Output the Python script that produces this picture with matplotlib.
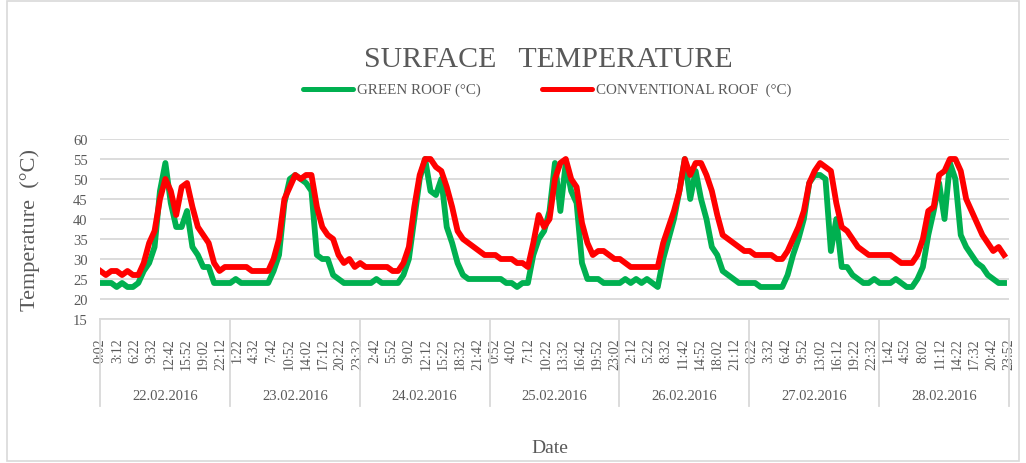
import matplotlib
matplotlib.use("Agg")
import matplotlib.pyplot as plt
from matplotlib.patches import Rectangle
from matplotlib.lines import Line2D
import numpy as np

# ---------------- data (hourly readings, °C) ----------------
dates = ["22.02.2016", "23.02.2016", "24.02.2016", "25.02.2016",
         "26.02.2016", "27.02.2016", "28.02.2016"]

green_d1 = [24, 24, 24, 23, 24, 23, 23, 24, 27, 29, 33, 47, 54, 44, 38, 38, 42, 33, 31, 28, 28, 24, 24, 24]
green_d2 = [24, 25, 24, 24, 24, 24, 24, 24, 27, 31, 44, 50, 51, 50, 49, 47, 31, 30, 30, 26, 25, 24, 24, 24]
green_d3 = [24, 24, 24, 25, 24, 24, 24, 24, 26, 30, 40, 50, 55, 47, 46, 50, 38, 34, 29, 26, 25, 25, 25, 25]
green_d4 = [25, 25, 25, 24, 24, 23, 24, 24, 31, 35, 37, 42, 54, 42, 54, 47, 44, 29, 25, 25, 25, 24, 24, 24]
green_d5 = [24, 25, 24, 25, 24, 25, 24, 23, 30, 35, 40, 47, 55, 45, 52, 45, 40, 33, 31, 27, 26, 25, 24, 24]
green_d6 = [24, 24, 23, 23, 23, 23, 23, 26, 31, 35, 40, 49, 51, 51, 50, 32, 40, 28, 28, 26, 25, 24, 24, 25]
green_d7 = [24, 24, 24, 25, 24, 23, 23, 25, 28, 36, 42, 49, 40, 54, 50, 36, 33, 31, 29, 28, 26, 25, 24, 24]

red_d1 = [27, 26, 27, 27, 26, 27, 26, 26, 29, 34, 37, 45, 50, 47, 41, 48, 49, 43, 38, 36, 34, 29, 27, 28]
red_d2 = [28, 28, 28, 28, 27, 27, 27, 27, 30, 35, 45, 48, 51, 50, 51, 51, 43, 38, 36, 35, 31, 29, 30, 28]
red_d3 = [29, 28, 28, 28, 28, 28, 27, 27, 29, 33, 43, 51, 55, 55, 53, 52, 48, 43, 37, 35, 34, 33, 32, 31]
red_d4 = [31, 31, 30, 30, 30, 29, 29, 28, 34, 41, 38, 40, 50, 54, 55, 50, 48, 39, 34, 31, 32, 32, 31, 30]
red_d5 = [30, 29, 28, 28, 28, 28, 28, 28, 34, 38, 42, 47, 55, 51, 54, 54, 51, 47, 41, 36, 35, 34, 33, 32]
red_d6 = [32, 31, 31, 31, 31, 30, 30, 32, 35, 38, 42, 49, 52, 54, 53, 52, 44, 38, 37, 35, 33, 32, 31, 31]
red_d7 = [31, 31, 31, 30, 29, 29, 29, 31, 35, 42, 43, 51, 52, 55, 55, 52, 45, 42, 39, 36, 34, 32, 33, 31]

tick_labels = ["0:02", "3:12", "6:22", "9:32", "12:42", "15:52", "19:02", "22:12",
               "1:22", "4:32", "7:42", "10:52", "14:02", "17:12", "20:22", "23:32",
               "2:42", "5:52", "9:02", "12:12", "15:22", "18:32", "21:42",
               "0:52", "4:02", "7:12", "10:22", "13:32", "16:42", "19:52", "23:02",
               "2:12", "5:22", "8:32", "11:42", "14:52", "18:02", "21:12",
               "0:22", "3:32", "6:42", "9:52", "13:02", "16:12", "19:22", "22:32",
               "1:42", "4:52", "8:02", "11:12", "14:22", "17:32", "20:42", "23:52"]

green = np.array(green_d1 + green_d2 + green_d3 + green_d4 + green_d5 + green_d6 + green_d7, dtype=float)
red = np.array(red_d1 + red_d2 + red_d3 + red_d4 + red_d5 + red_d6 + red_d7, dtype=float)

SAMPLES_PER_DAY = 144      # 10-minute records
SAMPLES_PER_HOUR = 6
n_total = SAMPLES_PER_DAY * len(dates)
x_hourly = np.arange(len(green)) * SAMPLES_PER_HOUR
tick_pos = np.arange(len(tick_labels)) * 19

# ---------------- style ----------------
plt.rcParams['font.family'] = ['Liberation Serif', 'DejaVu Serif']
TXT = "#595959"
GRID = "#d9d9d9"
GREEN = "#00B050"
RED = "#FF0000"

W, H = 1026, 464
fig = plt.figure(figsize=(W / 100, H / 100), dpi=100)
fig.patch.set_facecolor("white")

l, r, t, b = 100, 1009, 140, 320
ax = fig.add_axes([l / W, 1 - b / H, (r - l) / W, (b - t) / H])

ax.plot(x_hourly, green, color=GREEN, lw=4.2, solid_joinstyle="round", zorder=3)
ax.plot(x_hourly, red, color=RED, lw=4.2, solid_joinstyle="round", zorder=4)

ax.set_xlim(-0.5, n_total - 0.5)
ax.set_ylim(15, 60)
ax.set_yticks(np.arange(15, 61, 5))
ax.tick_params(axis="y", length=0, pad=9, labelsize=10.5, labelcolor=TXT)
ax.yaxis.grid(True, color=GRID, lw=1.3)
ax.set_axisbelow(True)

ax.set_xticks(tick_pos)
ax.set_xticklabels(tick_labels, rotation=90, fontsize=10, color=TXT, va="top", ha="center")
ax.tick_params(axis="x", length=0, pad=13)

for s in ["top", "right", "left"]:
    ax.spines[s].set_visible(False)
ax.spines["bottom"].set_color(GRID)
ax.spines["bottom"].set_linewidth(1.3)

# day separators and date labels
sep_bottom = -(407 - b) / (b - t)
date_y = -(397 - b) / (b - t)
trans = ax.get_xaxis_transform()
for k in range(len(dates) + 1):
    xs = k * SAMPLES_PER_DAY - 0.5
    ax.add_line(Line2D([xs, xs], [0, sep_bottom], transform=trans, color=GRID,
                       lw=1.3, clip_on=False))
for k, d in enumerate(dates):
    ax.text(k * SAMPLES_PER_DAY + SAMPLES_PER_DAY / 2 - 0.5, date_y, d, transform=trans,
            ha="center", va="center", fontsize=10.5, color=TXT)

ax.set_ylabel("Temperature  (°C)", fontsize=16, color=TXT)
ax.yaxis.set_label_coords(-(l - 40) / (r - l), 0.5)

fig.text(550 / W, 1 - 449 / H, "Date", ha="center", va="center", fontsize=14, color=TXT)

# title
fig.text(548 / W, 1 - 60 / H, "SURFACE   TEMPERATURE", ha="center", va="center",
         fontsize=21.5, color=TXT)

# legend
ly = 1 - 90 / H
fig.add_artist(Line2D([303 / W, 353 / W], [ly, ly], color=GREEN, lw=3.6,
                      solid_capstyle="round"))
fig.text(357 / W, ly, "GREEN ROOF (°C)", ha="left", va="center", fontsize=10.8, color=TXT)
fig.add_artist(Line2D([542 / W, 592 / W], [ly, ly], color=RED, lw=3.6,
                      solid_capstyle="round"))
fig.text(596 / W, ly, "CONVENTIONAL ROOF  (°C)", ha="left", va="center", fontsize=10.8, color=TXT)

# chart border
fig.add_artist(Rectangle((7 / W, 2 / H), (1019 - 7) / W, (H - 4) / H,
                         transform=fig.transFigure, fill=False, edgecolor=GRID, lw=1.2))

fig.savefig("out.png", dpi=100)
